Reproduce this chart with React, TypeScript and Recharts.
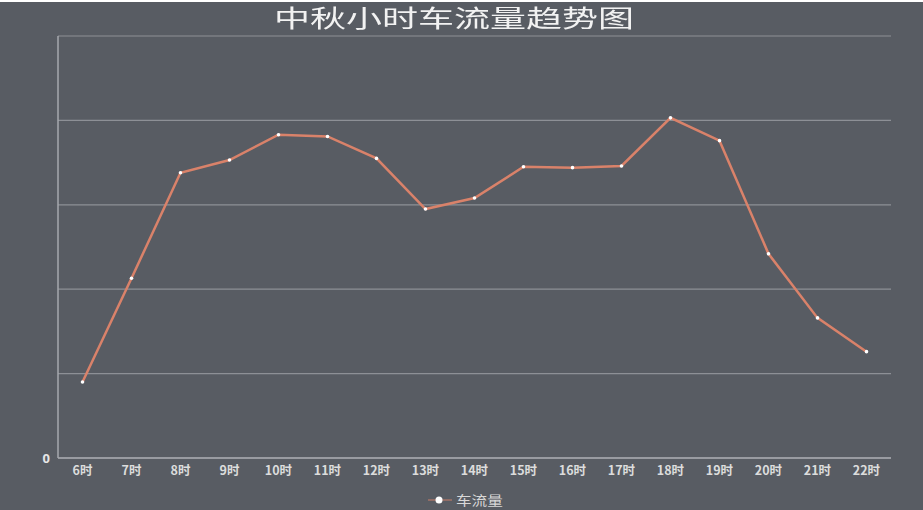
import React from "react";
import { LineChart, Line, XAxis, YAxis, CartesianGrid, Legend } from "recharts";

const hours = ["6时", "7时", "8时", "9时", "10时", "11时", "12时", "13时", "14时", "15时", "16时", "17时", "18时", "19时", "20时", "21时", "22时"];
const flow = [90, 213, 338, 353, 383, 381, 355, 295, 308, 345, 344, 346, 403, 376, 242, 166, 126];
const yTicks = [0, 100, 200, 300, 400, 500];
const title = "中秋小时车流量趋势图";
const seriesName = "车流量";

const data = hours.map((h, i) => ({ hour: h, value: flow[i] }));

const BG = "#585c63";
const LINE = "#d9826a";

const LegendContent = () => (
  <div style={{ height: 20, display: "flex", justifyContent: "center", alignItems: "center", fontFamily: "'Noto Sans CJK SC', sans-serif", transform: "translate(16px, 0px)" }}>
    <svg width={24} height={12} style={{ marginRight: 4 }}>
      <line x1={0} y1={6} x2={24} y2={6} stroke={LINE} strokeOpacity={0.6} strokeWidth={1.5} />
      <circle cx={11} cy={6} r={3.5} fill="#ffffff" />
    </svg>
    <span style={{ color: "#d8d8d8", fontSize: 13, lineHeight: "16px", display: "inline-block", transform: "scaleX(1.2)", transformOrigin: "left center" }}>{seriesName}</span>
  </div>
);

export default function App() {
  return (
    <div style={{ position: "fixed", left: 0, top: 0, width: 923, height: 510, background: "#ffffff" }}>
      <div style={{ position: "absolute", left: 0, top: 2, width: 923, height: 508, background: BG }} />
      <div
        style={{
          position: "absolute",
          left: 0,
          top: 4,
          width: 907,
          textAlign: "center",
          fontFamily: "'Noto Sans CJK SC', sans-serif",
          fontSize: 24,
          lineHeight: "26px",
          color: "#f2f2f2",
          zIndex: 2,
        }}
      >
        <span style={{ display: "inline-block", transform: "scaleX(1.5)", transformOrigin: "center" }}>{title}</span>
      </div>
      <div style={{ position: "absolute", left: 0, top: 0 }}>
        <LineChart width={923} height={510} data={data} margin={{ top: 36, right: 32, left: 0, bottom: 0 }}>
          <CartesianGrid vertical={false} stroke="#8d9096" strokeWidth={1.2} />
          <XAxis
            dataKey="hour"
            padding={{ left: 24.5, right: 24.5 }}
            height={32}
            tickLine={false}
            axisLine={{ stroke: "#a6a9ae", strokeWidth: 1.5 }}
            tick={{ fill: "#dcdcdc", fontSize: 12.5, fontWeight: 600, fontFamily: "'Noto Sans CJK SC', sans-serif" }}
            interval={0}
          />
          <YAxis
            width={58}
            domain={[0, 500]}
            ticks={yTicks}
            tickFormatter={(v: number) => (v === 0 ? "0" : "")}
            tickLine={false}
            axisLine={{ stroke: "#a6a9ae", strokeWidth: 1.5 }}
            tick={{ fill: "#e6e6e6", fontSize: 13, fontWeight: 700, fontFamily: "'Noto Sans', sans-serif" }}
          />
          <Legend verticalAlign="bottom" height={20} content={<LegendContent />} />
          <Line
            type="linear"
            dataKey="value"
            name={seriesName}
            stroke={LINE}
            strokeWidth={2.5}
            dot={{ r: 1.8, fill: "#ffffff", stroke: "none" }}
            activeDot={false}
            isAnimationActive={false}
          />
        </LineChart>
      </div>
    </div>
  );
}
